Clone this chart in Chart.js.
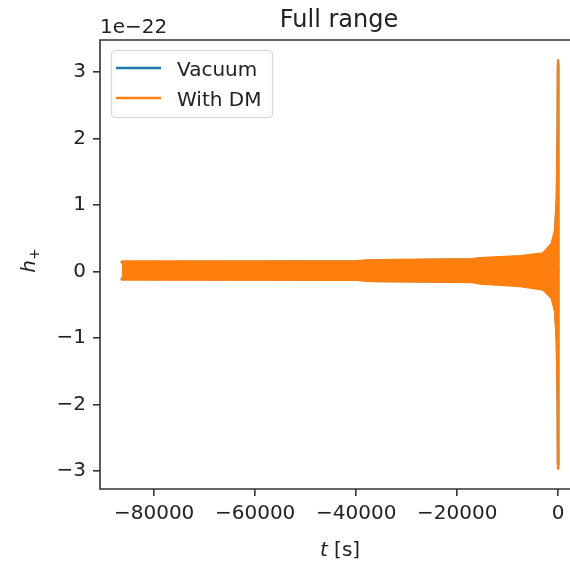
<!DOCTYPE html>
<html><head><meta charset="utf-8">
<script src="https://cdn.jsdelivr.net/npm/chart.js@4/dist/chart.umd.min.js"></script>
<style>
html,body{margin:0;padding:0;background:#fff;overflow:hidden;width:570px;height:563px}
#c{position:absolute;left:0;top:0;width:570px;height:563px}
</style>
</head><body><canvas id="c" width="570" height="563"></canvas>
<script>
// Envelope of h+ (units of 1e-22), vs time t [s]
const times       = [-86400, -40000, -37000, -17000, -15500, -7500, -3000, -1250, -600, -250, -80, -25, 0];
const dmUpper     = [0.15, 0.155, 0.17, 0.185, 0.20, 0.23, 0.27, 0.42, 0.62, 1.10, 2.20, 3.177, 0.0];
const dmLower     = [-0.12, -0.125, -0.145, -0.16, -0.18, -0.22, -0.27, -0.40, -0.60, -1.05, -2.00, -2.968, 0.0];
const vacUpper    = [0.14, 0.15, 0.16, 0.18, 0.19, 0.22, 0.26, 0.40, 0.60, 1.05, 2.10, 3.10, 0.0];
const vacLower    = [-0.11, -0.12, -0.14, -0.15, -0.17, -0.21, -0.26, -0.38, -0.58, -1.00, -1.90, -2.90, 0.0];
const xTickValues = [-80000, -60000, -40000, -20000, 0];
const yTickValues = [-3, -2, -1, 0, 1, 2, 3];
const seriesNames = ['Vacuum', 'With DM'];
const titleText = 'Full range';
const offsetText = '1e\u221222';
// full axes x-range is -90720..4320; the reference image is cropped at t = 2340
const xMin = -90720, xMaxFull = 4320, xMaxVisible = 2340;

const BLUE = '#1f77b4', ORANGE = '#ff7f0e';
const FONT = "'DejaVu Sans', sans-serif";
const fmt = v => v < 0 ? '\u2212' + Math.abs(v) : String(v);
const pts = arr => times.map((t, i) => ({x: t, y: arr[i]}));

const lineDs = (data, color, fill) => ({
  data, borderColor: color, backgroundColor: color, borderWidth: 2.5,
  pointRadius: 0, tension: 0, fill, borderCapStyle: 'round', borderJoinStyle: 'round'
});

const decor = {
  id: 'decor',
  afterDraw(chart) {
    const {ctx, chartArea: a} = chart;
    const fullRight = chart.scales.x.getPixelForValue(xMaxFull);
    const cx = (a.left + fullRight) / 2;
    ctx.save();
    // nothing is drawn right of the spike in the reference: keep that strip blank
    ctx.fillStyle = '#fff';
    ctx.fillRect(a.right - 5, a.top + 1, 5, a.bottom - a.top - 2);
    ctx.strokeStyle = '#333'; ctx.lineWidth = 1.6;
    ctx.beginPath();
    ctx.moveTo(a.right, a.top); ctx.lineTo(a.left, a.top); ctx.lineTo(a.left, a.bottom); ctx.lineTo(a.right, a.bottom);
    ctx.stroke();
    ctx.fillStyle = '#222';
    ctx.font = `24px ${FONT}`; ctx.textAlign = 'center'; ctx.textBaseline = 'alphabetic';
    ctx.fillText(titleText, cx - 1, 27);
    ctx.font = `20px ${FONT}`; ctx.textAlign = 'left';
    ctx.fillText(offsetText, a.left, 33);
    ctx.font = `italic 20px ${FONT}`; const w1 = ctx.measureText('t').width;
    ctx.font = `20px ${FONT}`; const w2 = ctx.measureText(' [s]').width;
    let x0 = cx - (w1 + w2) / 2;
    ctx.font = `italic 20px ${FONT}`; ctx.fillText('t', x0, 556);
    ctx.font = `20px ${FONT}`; ctx.fillText(' [s]', x0 + w1, 556);
    ctx.save();
    ctx.translate(35, (a.top + a.bottom) / 2 - 4);
    ctx.rotate(-Math.PI / 2);
    ctx.font = `italic 20px ${FONT}`; const hw = ctx.measureText('h').width;
    ctx.font = `14px ${FONT}`; const pw = ctx.measureText('+').width;
    const tot = hw + pw;
    ctx.font = `italic 20px ${FONT}`; ctx.textAlign = 'left';
    ctx.fillText('h', -tot / 2, 0);
    ctx.font = `14px ${FONT}`;
    ctx.fillText('+', -tot / 2 + hw, 4);
    ctx.restore();
    const lx = 111.5, ly = 50.5, lw = 161, lh = 67, r = 4;
    ctx.beginPath();
    ctx.moveTo(lx + r, ly); ctx.lineTo(lx + lw - r, ly); ctx.arcTo(lx + lw, ly, lx + lw, ly + r, r);
    ctx.lineTo(lx + lw, ly + lh - r); ctx.arcTo(lx + lw, ly + lh, lx + lw - r, ly + lh, r);
    ctx.lineTo(lx + r, ly + lh); ctx.arcTo(lx, ly + lh, lx, ly + lh - r, r);
    ctx.lineTo(lx, ly + r); ctx.arcTo(lx, ly, lx + r, ly, r); ctx.closePath();
    ctx.fillStyle = 'rgba(255,255,255,0.8)'; ctx.fill();
    ctx.strokeStyle = '#d6d6d6'; ctx.lineWidth = 1.2; ctx.stroke();
    const cols = [BLUE, ORANGE], ys = [68, 98], bl = [76, 106];
    for (let i = 0; i < 2; i++) {
      ctx.strokeStyle = cols[i]; ctx.lineWidth = 2.6; ctx.lineCap = 'butt';
      ctx.beginPath(); ctx.moveTo(116, ys[i]); ctx.lineTo(161, ys[i]); ctx.stroke();
      ctx.fillStyle = '#222'; ctx.font = `20px ${FONT}`; ctx.textAlign = 'left';
      ctx.fillText(seriesNames[i], 177, bl[i]);
    }
    ctx.restore();
  }
};

new Chart(document.getElementById('c'), {
  type: 'line',
  data: {
    datasets: [
      lineDs(pts(dmUpper), ORANGE, '+1'),
      lineDs(pts(dmLower), ORANGE, false),
      lineDs(pts(vacUpper), BLUE, '+1'),
      lineDs(pts(vacLower), BLUE, false)
    ]
  },
  options: {
    responsive: false, animation: false, devicePixelRatio: 1,
    layout: {padding: {left: 0, right: 0, top: 40, bottom: 0}},
    plugins: {legend: {display: false}, tooltip: {enabled: false}, title: {display: false}},
    scales: {
      x: {
        type: 'linear', min: xMin, max: xMaxVisible,
        afterFit: s => { s.height = 74; s.paddingLeft = 0; s.paddingRight = 0; },
        afterBuildTicks: s => { s.ticks = xTickValues.map(v => ({value: v})); },
        border: {display: false},
        grid: {display: true, drawOnChartArea: false, drawTicks: true, tickLength: 7, color: '#333', lineWidth: 1.6},
        ticks: {callback: v => fmt(v), font: {family: FONT, size: 20}, color: '#222', padding: 6, maxRotation: 0, autoSkip: false}
      },
      y: {
        type: 'linear', min: -3.275, max: 3.485,
        afterFit: s => { s.width = 100; },
        afterBuildTicks: s => { s.ticks = yTickValues.map(v => ({value: v})); },
        border: {display: false},
        grid: {display: true, drawOnChartArea: false, drawTicks: true, tickLength: 7, color: '#333', lineWidth: 1.6},
        ticks: {callback: v => fmt(v), font: {family: FONT, size: 20}, color: '#222', padding: 7, autoSkip: false}
      }
    }
  },
  plugins: [decor]
});
</script>
</body></html>
